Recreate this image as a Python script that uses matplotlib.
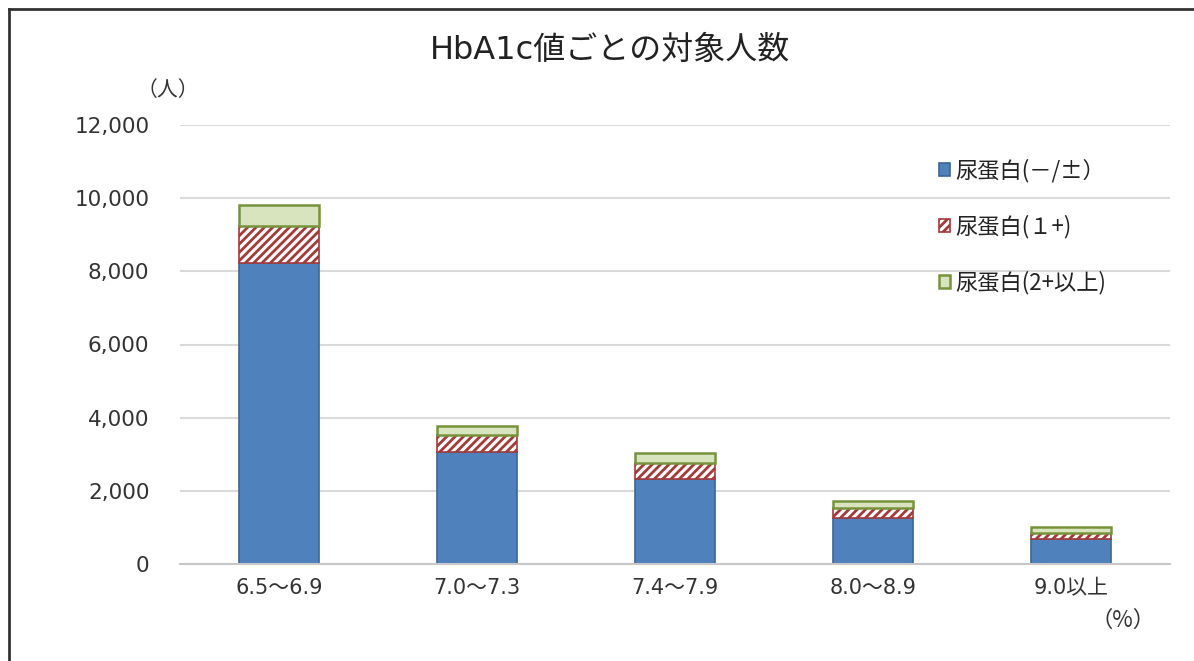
import matplotlib
matplotlib.use("Agg")
import matplotlib.pyplot as plt
import matplotlib.lines as mlines
import numpy as np

plt.rcParams['font.family'] = ['DejaVu Sans', 'Noto Sans CJK JP']
plt.rcParams['hatch.linewidth'] = 2.0

categories = ["6.5～6.9", "7.0～7.3", "7.4～7.9", "8.0～8.9", "9.0以上"]
neg = [8220, 3070, 2315, 1250, 685]
plus1 = [1020, 455, 435, 270, 170]
plus2 = [575, 245, 275, 200, 155]
series_labels = ["尿蛋白(－/±）", "尿蛋白(１+)", "尿蛋白(2+以上)"]
yticks = [0, 2000, 4000, 6000, 8000, 10000, 12000]

cjk = ['Noto Sans CJK JP', 'DejaVu Sans']

fig = plt.figure(figsize=(11.94, 6.61), dpi=100)
ax = fig.add_axes([180/1194, 1-564/661, (1170-180)/1194, (564-125)/661])

x = np.arange(len(categories))
w = 0.405
neg_a = np.array(neg)
p1_a = np.array(plus1)
p2_a = np.array(plus2)

ax.bar(x, neg_a, w, color='#4F81BD', edgecolor='#3B6696', linewidth=1.2, zorder=3,
       label=series_labels[0])
ax.bar(x, p1_a, w, bottom=neg_a, facecolor='white', edgecolor='#A33A3A', hatch='////',
       linewidth=1.2, zorder=3, label=series_labels[1])
ax.bar(x, p2_a, w, bottom=neg_a + p1_a, color='#D7E4BD', edgecolor='#77933C',
       linewidth=1.8, zorder=3, label=series_labels[2])

ax.set_xlim(-0.5, len(categories) - 0.5)
ax.set_ylim(0, 12000)
ax.set_yticks(yticks)
ax.set_yticklabels([f"{v:,}" for v in yticks], fontsize=15.5, color='#333333')
ax.set_xticks(x)
ax.set_xticklabels(categories, fontsize=15, color='#333333')
ax.tick_params(axis='both', length=0, pad=22)
ax.tick_params(axis='x', pad=10)
ax.grid(axis='y', color='#D9D9D9', linewidth=1.5, zorder=0)
for s in ['top', 'right', 'left']:
    ax.spines[s].set_visible(False)
ax.spines['bottom'].set_color('#C8C8C8')
ax.spines['bottom'].set_linewidth(1.5)
ax.spines['bottom'].set_zorder(4)

fig.text(610/1194, 1-50/661, "HbA1c値ごとの対象人数", fontsize=23, ha='center', va='center',
         color='#222222')
fig.text(168/1194, 1-90/661, "（人）", fontsize=15, ha='center', va='center', color='#333333',
         family=cjk)
fig.text(1123/1194, 1-620/661, "（%）", fontsize=16, ha='center', va='center', color='#333333',
         family=cjk)

leg = ax.legend(loc='upper left', bbox_to_anchor=(930/1194, 1-150/661),
                bbox_transform=fig.transFigure, frameon=False,
                prop={'family': cjk, 'size': 16},
                handlelength=0.5, handleheight=0.5, handletextpad=0.25,
                labelspacing=1.45, borderaxespad=0)
for t in leg.get_texts():
    t.set_color('#222222')

fig.add_artist(mlines.Line2D([9/1194, 1], [1-9/661, 1-9/661], transform=fig.transFigure,
                             color='#333333', linewidth=2))
fig.add_artist(mlines.Line2D([9/1194, 9/1194], [0, 1-9/661], transform=fig.transFigure,
                             color='#333333', linewidth=2))

fig.savefig("out.png", dpi=100)
